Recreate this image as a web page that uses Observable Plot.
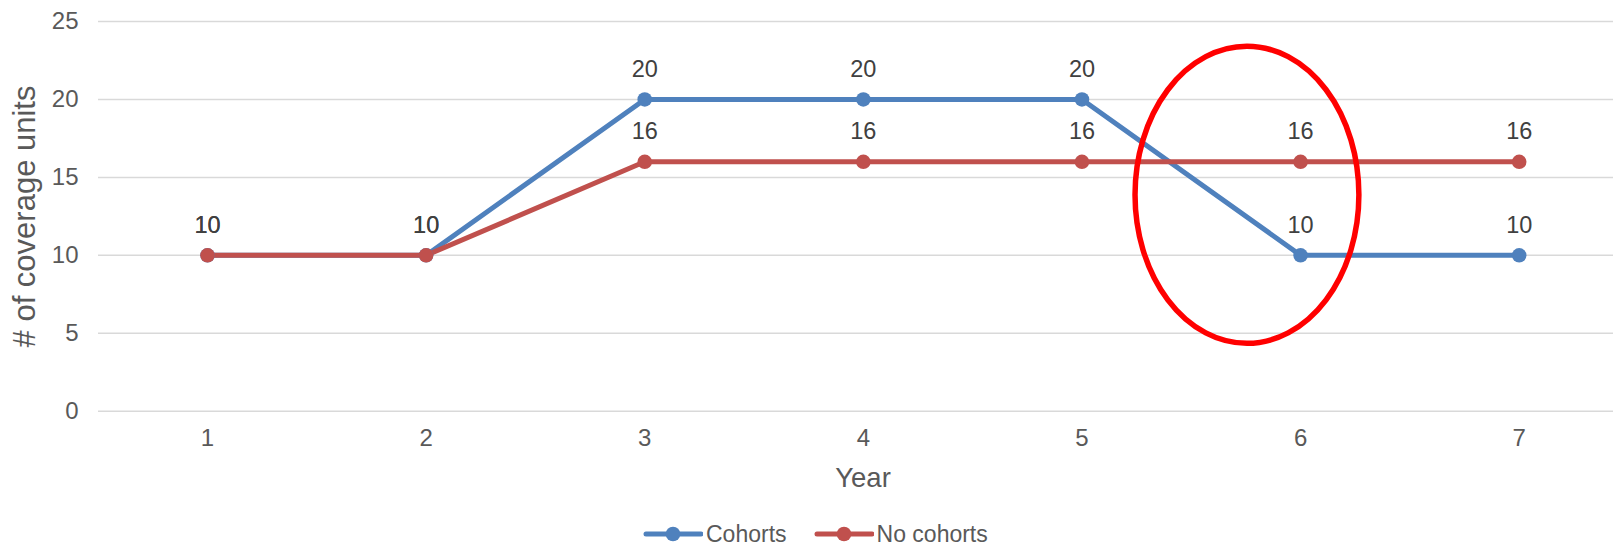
<!DOCTYPE html>
<html>
<head>
<meta charset="utf-8">
<script src="https://cdn.jsdelivr.net/npm/d3@7"></script>
<script src="https://cdn.jsdelivr.net/npm/@observablehq/plot@0.6"></script>
<style>
  html, body { margin: 0; padding: 0; background: #fff; }
  #wrap { position: relative; width: 1613px; height: 546px; overflow: hidden; font-family: "Liberation Sans", Arial, sans-serif; }
  #legend { position: absolute; left: 643px; top: 520px; display: flex; align-items: center; height: 28px; font-size: 23px; line-height: 24px; color: #595959; }
  .item { display: flex; align-items: center; margin-right: 27px; }
  .item svg { display: block; margin-right: 3px; }
</style>
</head>
<body>
<div id="wrap"></div>
<script>
const years = [1, 2, 3, 4, 5, 6, 7];
const cohorts = [10, 10, 20, 20, 20, 10, 10];
const noCohorts = [10, 10, 16, 16, 16, 16, 16];
const seriesNames = ["Cohorts", "No cohorts"];
const seriesColors = ["#4F81BD", "#C0504D"];
const yTicks = [0, 5, 10, 15, 20, 25];
const xTitle = "Year";
const yTitle = "# of coverage units";

const table = [];
[cohorts, noCohorts].forEach((vals, s) => {
  vals.forEach((v, i) => table.push({ year: years[i], value: v, series: seriesNames[s] }));
});

const font = "'Liberation Sans', Arial, sans-serif";

const chart = Plot.plot({
  width: 1613,
  height: 546,
  marginLeft: 98,
  marginRight: 0,
  marginTop: 21,
  marginBottom: 135,
  style: { fontFamily: font, background: "white", overflow: "visible" },
  x: { type: "linear", domain: [0.5, 7.5], range: [97.7, 1628], label: null },
  y: { domain: [0, 25], range: [410.7, 21], label: null },
  color: { domain: seriesNames, range: seriesColors },
  marks: [
    Plot.ruleY(yTicks, { stroke: "#D9D9D9", strokeWidth: 1.5 }),
    Plot.axisY({ ticks: yTicks, tickSize: 0, tickPadding: 20, fontSize: 24, fill: "#595959", label: null }),
    Plot.axisX({ ticks: years, tickSize: 0, tickPadding: 17.5, fontSize: 24, fill: "#595959", label: null, tickFormat: d => String(d) }),
    Plot.text([xTitle], { frameAnchor: "bottom", textAnchor: "middle", lineAnchor: "middle", dx: 7, dy: 66.7, fontSize: 27.5, fill: "#595959" }),
    Plot.text([yTitle], { frameAnchor: "left", textAnchor: "middle", lineAnchor: "middle", rotate: -90, dx: -73, dy: 0, fontSize: 31, fill: "#595959" }),
    Plot.line(table, { x: "year", y: "value", z: "series", stroke: "series", strokeWidth: 5, strokeLinejoin: "round", strokeLinecap: "round" }),
    Plot.dot(table, { x: "year", y: "value", fill: "series", r: 7.3, stroke: null }),
    Plot.text(table, { x: "year", y: "value", text: d => String(d.value), dy: -30, fontSize: 23.5, fill: "#404040" })
  ]
});

document.getElementById("wrap").appendChild(chart);

// highlight ellipse annotation (in data coordinates)
const xs = chart.scale("x"), ys = chart.scale("y");
const cx = xs.apply(5.757), cy = ys.apply(13.85);
const rx = xs.apply(5.757 + 0.512) - cx, ry = ys.apply(13.85 - 9.53) - cy;
d3.select(chart).append("ellipse")
  .attr("cx", cx).attr("cy", cy).attr("rx", rx).attr("ry", ry)
  .attr("fill", "none").attr("stroke", "#FF0000").attr("stroke-width", 5.5);

// legend
const legend = d3.select("#wrap").append("div").attr("id", "legend");
seriesNames.forEach((name, i) => {
  const it = legend.append("div").attr("class", "item");
  const s = it.append("svg").attr("width", 60).attr("height", 20);
  s.append("line").attr("x1", 3).attr("x2", 58).attr("y1", 10).attr("y2", 10)
    .attr("stroke", seriesColors[i]).attr("stroke-width", 5).attr("stroke-linecap", "round");
  s.append("circle").attr("cx", 30).attr("cy", 10).attr("r", 7.3).attr("fill", seriesColors[i]);
  it.append("span").text(name);
});
</script>
</body>
</html>
